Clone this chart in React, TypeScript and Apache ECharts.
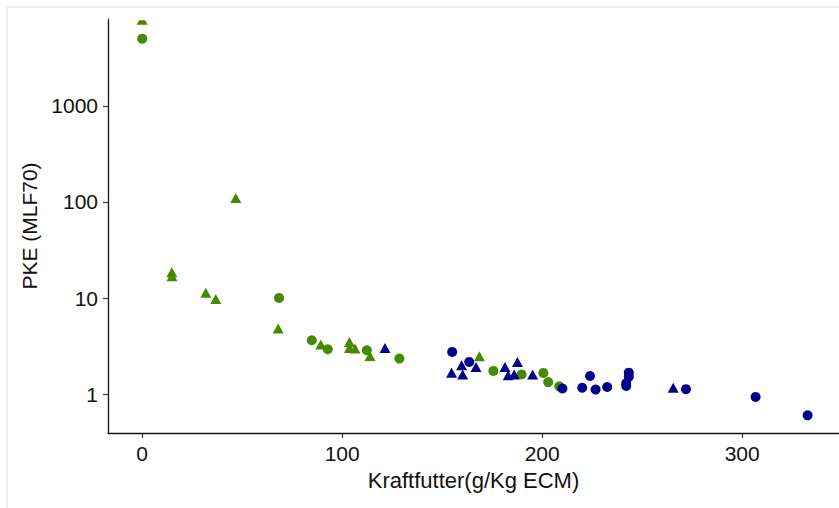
import React, { useEffect, useRef } from "react";
import * as echarts from "echarts";

// Kraftfutter (g/Kg ECM) and PKE (MLF70) per group
const greenCircleX = [0, 68.4, 84.8, 92.8, 112.3, 128.6, 175.6, 189.7, 200.6, 203, 208.5];
const greenCircleY = [4980, 10.05, 3.65, 2.94, 2.87, 2.35, 1.75, 1.61, 1.67, 1.34, 1.21];

const greenTriangleX = [0, 46.8, 14.8, 14.9, 31.8, 36.8, 68, 89.3, 103.6, 103.6, 106.4, 113.9, 168.6];
const greenTriangleY = [7850, 110, 18.6, 16.9, 11.4, 9.8, 4.83, 3.29, 3.5, 3.03, 2.99, 2.5, 2.49];

const blueCircleX = [155, 163.5, 210.1, 220, 223.9, 226.7, 232.5, 243.3, 243.3, 242, 242, 271.9, 306.7, 332.7];
const blueCircleY = [2.76, 2.17, 1.15, 1.17, 1.55, 1.12, 1.19, 1.68, 1.52, 1.3, 1.22, 1.13, 0.94, 0.605];

const blueTriangleX = [121.4, 154.7, 159.7, 160.2, 166.9, 181.4, 187.6, 183, 186, 195.2, 265.5];
const blueTriangleY = [3.03, 1.68, 2.0, 1.61, 1.92, 1.92, 2.17, 1.58, 1.61, 1.61, 1.17];

const xTicks = [0, 100, 200, 300];
const yTicks = [1, 10, 100, 1000];

const GREEN = "#458B00";
const BLUE = "#00008B";
const FONT = "Liberation Sans, Arial, sans-serif";

const pairs = (xs: number[], ys: number[]) => xs.map((x, i) => [x, ys[i]]);

export default function App() {
  const ref = useRef<HTMLDivElement>(null);
  useEffect(() => {
    const chart = echarts.init(ref.current!, null, { renderer: "svg" });
    const mk = (name: string, symbol: string, size: any, color: string, xs: number[], ys: number[]) => ({
      type: "scatter",
      name,
      symbol,
      symbolSize: size,
      itemStyle: { color, opacity: 1 },
      emphasis: { disabled: true },
      data: pairs(xs, ys),
      clip: true,
      z: 2,
    });
    chart.setOption({
      animation: false,
      backgroundColor: "#ffffff",
      graphic: [
        {
          type: "rect",
          shape: { x: 108.8, y: 8, width: 740, height: 12.3 },
          style: { fill: "#ffffff" },
          silent: true,
          z: 50,
        },
        {
          type: "rect",
          shape: { x: 7, y: 7, width: 900, height: 600 },
          style: { fill: "none", stroke: "#ebebeb", lineWidth: 1.5 },
          silent: true,
          z: 51,
        },
      ],
      grid: { left: 108, right: 0, top: 19, bottom: 75, containLabel: false },
      xAxis: {
        type: "value",
        min: -17.1,
        max: 348.4,
        name: "Kraftfutter(g/Kg ECM)",
        nameLocation: "middle",
        nameGap: 36,
        nameTextStyle: { fontFamily: FONT, fontSize: 22, color: "#111" },
        axisLine: { show: true, onZero: false, lineStyle: { color: "#111", width: 1.3 } },
        axisTick: { show: true, length: 5, customValues: xTicks, lineStyle: { color: "#333", width: 1.2 } },
        axisLabel: {
          customValues: xTicks,
          margin: 10,
          fontFamily: FONT,
          fontSize: 21,
          color: "#111",
          formatter: (v: number) => (xTicks.includes(v) ? String(v) : ""),
        },
        splitLine: { show: false },
      },
      yAxis: {
        type: "log",
        logBase: 10,
        min: 0.396,
        max: 7980,
        name: "PKE (MLF70)",
        nameLocation: "middle",
        nameGap: 66,
        nameTextStyle: { fontFamily: FONT, fontSize: 21, color: "#111" },
        axisLine: { show: true, onZero: false, lineStyle: { color: "#111", width: 1.3 } },
        axisTick: { show: true, length: 5, customValues: yTicks, lineStyle: { color: "#333", width: 1.2 } },
        axisLabel: {
          customValues: yTicks,
          margin: 10,
          fontFamily: FONT,
          fontSize: 21,
          color: "#111",
          formatter: (v: number) => (yTicks.includes(v) ? String(v) : ""),
        },
        splitLine: { show: false },
        minorTick: { show: false },
      },
      series: [
        mk("green circle", "circle", 10, GREEN, greenCircleX, greenCircleY),
        mk("green triangle", "triangle", [11, 10], GREEN, greenTriangleX, greenTriangleY),
        mk("blue circle", "circle", 10, BLUE, blueCircleX, blueCircleY),
        mk("blue triangle", "triangle", [11, 10], BLUE, blueTriangleX, blueTriangleY),
      ],
    });
    return () => chart.dispose();
  }, []);
  return (
    <div
      ref={ref}
      style={{ position: "fixed", left: 0, top: 0, width: 839, height: 508, background: "#fff" }}
    />
  );
}
